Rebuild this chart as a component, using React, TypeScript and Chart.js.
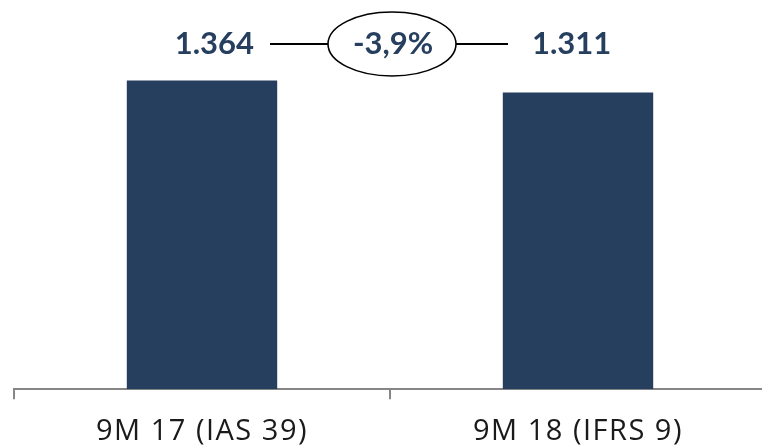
import React, { useEffect, useRef } from "react";
import { Chart, registerables } from "chart.js";

Chart.register(...registerables);

const categories = ["9M 17 (IAS 39)", "9M 18 (IFRS 9)"];
const values = [1364, 1311];
const barColor = "#263f5f";

function fmt(v: number): string {
  return v.toString().replace(/\B(?=(\d{3})+(?!\d))/g, ".");
}

const spacingPlugin = {
  id: "labelSpacing",
  beforeDraw(chart: any) {
    (chart.ctx as any).letterSpacing = "1.5px";
  },
};

const annotationPlugin = {
  id: "changeAnnotation",
  afterDatasetsDraw(chart: any) {
    const ctx = chart.ctx;
    const meta = chart.getDatasetMeta(0);
    const x1 = meta.data[0].x;
    const x2 = meta.data[1].x;
    const cx = (x1 + x2) / 2 + 2;
    const cy = 44;
    const change = ((values[1] / values[0]) - 1) * 100;
    const changeTxt = (change > 0 ? "+" : "") + change.toFixed(1).replace(".", ",") + "%";
    ctx.save();
    (ctx as any).letterSpacing = "0px";
    ctx.fillStyle = barColor;
    ctx.font = "bold 31px Lato";
    ctx.textBaseline = "middle";
    ctx.textAlign = "right";
    ctx.fillText(fmt(values[0]), cx - 138, cy);
    ctx.textAlign = "left";
    ctx.fillText(fmt(values[1]), cx + 140, cy);
    ctx.textAlign = "center";
    ctx.fillText(changeTxt, cx + 1, cy);
    ctx.strokeStyle = "#000";
    ctx.lineWidth = 2;
    ctx.beginPath();
    ctx.moveTo(cx - 122, cy);
    ctx.lineTo(cx - 64, cy);
    ctx.moveTo(cx + 64, cy);
    ctx.lineTo(cx + 116, cy);
    ctx.stroke();
    ctx.lineWidth = 1.6;
    ctx.beginPath();
    ctx.ellipse(cx, cy, 64, 32, 0, 0, Math.PI * 2);
    ctx.stroke();
    ctx.restore();
    (ctx as any).letterSpacing = "1.5px";
  },
};

export default function App() {
  const ref = useRef<HTMLCanvasElement>(null);
  useEffect(() => {
    if (!ref.current) return;
    const chart = new Chart(ref.current, {
      type: "bar",
      data: {
        labels: categories,
        datasets: [
          {
            data: values,
            backgroundColor: barColor,
            barPercentage: 0.8,
            categoryPercentage: 0.5,
          },
        ],
      },
      options: {
        animation: false,
        responsive: false,
        maintainAspectRatio: false,
        layout: { padding: { left: 14, right: 0, top: 0, bottom: 0 } },
        plugins: { legend: { display: false }, tooltip: { enabled: false } },
        scales: {
          x: {
            offset: true,
            grid: {
              display: true,
              offset: true,
              drawOnChartArea: false,
              drawTicks: true,
              tickLength: 10,
              color: "#868686",
              lineWidth: 2,
            },
            border: { display: true, color: "#868686", width: 2 },
            ticks: {
              color: "#1a1a1a",
              font: { family: "Open Sans", size: 29 },
              padding: 15,
            },
          },
          y: {
            display: false,
            min: 0,
            max: 1720,
          },
        },
      },
      plugins: [spacingPlugin, annotationPlugin],
    });
    return () => chart.destroy();
  }, []);
  return (
    <div style={{ position: "fixed", left: 0, top: 0, width: 762, height: 446, overflow: "hidden", background: "#fff" }}>
      <canvas ref={ref} width={766} height={464} />
    </div>
  );
}
